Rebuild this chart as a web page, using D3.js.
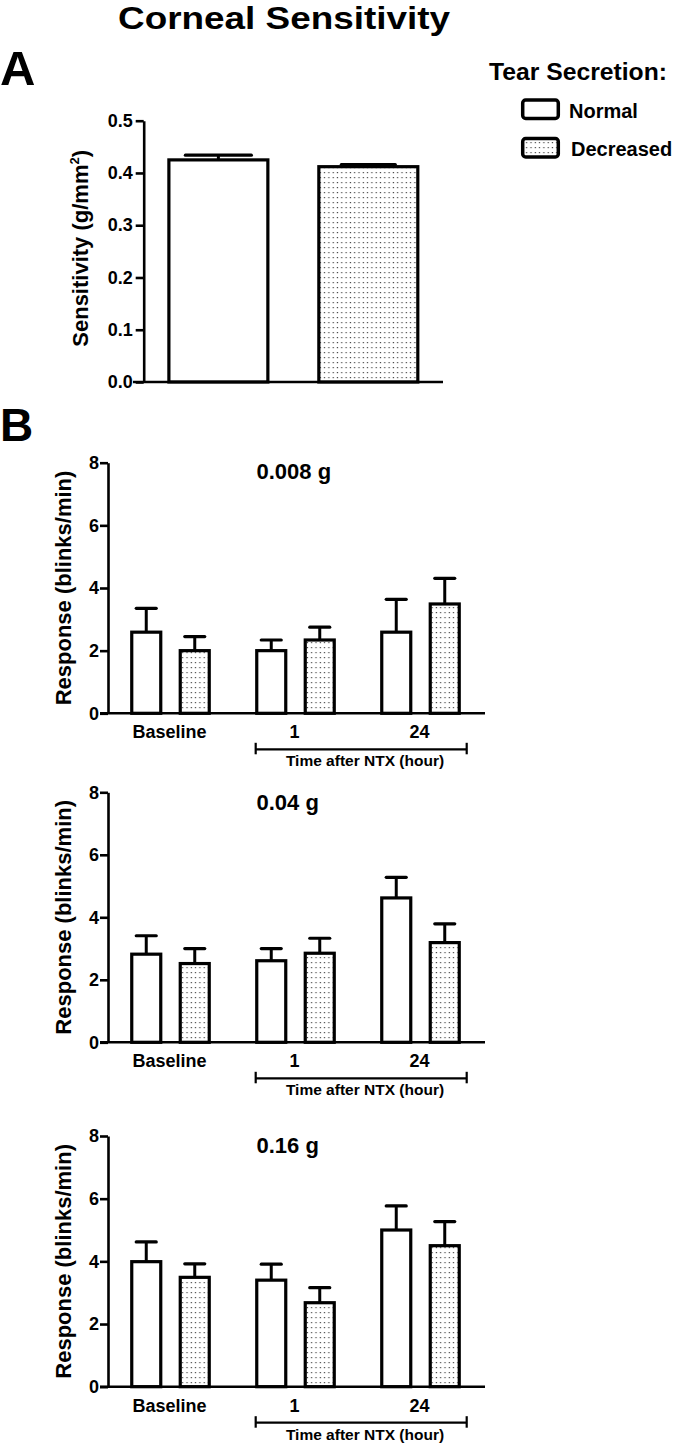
<!DOCTYPE html>
<html>
<head>
<meta charset="utf-8">
<script src="https://cdn.jsdelivr.net/npm/d3@7"></script>
<style>
  html, body { margin: 0; padding: 0; background: #fff; }
  svg { display: block; }
  text { font-family: "Liberation Sans", Arial, Helvetica, sans-serif; font-weight: bold; fill: #000; }
</style>
</head>
<body>
<div id="chart"></div>
<script>
// ---------- DATA ----------
const seriesNames = ["Normal", "Decreased"];

// Panel A
const aValues = [0.425, 0.412];
const aErrors = [0.009, 0.004];
const aTicks = [0, 0.1, 0.2, 0.3, 0.4, 0.5];

// Panel B
const bCategories = ["Baseline", "1", "24"];
const bTicks = [0, 2, 4, 6, 8];
const bTitles = ["0.008 g", "0.04 g", "0.16 g"];

const b1Normal = [2.59, 2.00, 2.59];
const b1NormalErr = [0.76, 0.34, 1.05];
const b1Decreased = [2.00, 2.34, 3.49];
const b1DecreasedErr = [0.45, 0.41, 0.82];

const b2Normal = [2.82, 2.61, 4.62];
const b2NormalErr = [0.59, 0.39, 0.66];
const b2Decreased = [2.52, 2.85, 3.19];
const b2DecreasedErr = [0.48, 0.48, 0.60];

const b3Normal = [3.99, 3.40, 5.00];
const b3NormalErr = [0.63, 0.51, 0.77];
const b3Decreased = [3.49, 2.68, 4.50];
const b3DecreasedErr = [0.43, 0.48, 0.77];

// ---------- SETUP ----------
const W = 675, H = 1445;
const svg = d3.select("#chart").append("svg").attr("width", W).attr("height", H);

const defs = svg.append("defs");
const pat = defs.append("pattern").attr("id", "dots")
  .attr("patternUnits", "userSpaceOnUse").attr("width", 4.3).attr("height", 5);
pat.append("rect").attr("width", 4.3).attr("height", 5).attr("fill", "#fff");
pat.append("rect").attr("x", 1.5).attr("y", 2).attr("width", 1.2).attr("height", 1.2).attr("fill", "#444");

const fillFor = i => i === 0 ? "#fff" : "url(#dots)";

// Title
svg.append("text").attr("x", 284).attr("y", 28.5).attr("text-anchor", "middle")
  .attr("font-size", 31).attr("textLength", 332).attr("lengthAdjust", "spacingAndGlyphs")
  .text("Corneal Sensitivity");

// Panel letters
svg.append("text").attr("x", 0).attr("y", 85).attr("font-size", 49).text("A");
svg.append("text").attr("x", 0).attr("y", 441).attr("font-size", 46).text("B");

// Legend
svg.append("text").attr("x", 489).attr("y", 80).attr("font-size", 24)
  .attr("textLength", 178).attr("lengthAdjust", "spacingAndGlyphs").text("Tear Secretion:");
const legY = [100, 138.5];
const legTextY = [118.3, 156];
const legTextX = [569, 571];
seriesNames.forEach((s, i) => {
  svg.append("rect").attr("x", 522.7).attr("y", legY[i]).attr("width", 35.6).attr("height", 18.5)
    .attr("rx", 3).attr("fill", fillFor(i)).attr("stroke", "#000").attr("stroke-width", 3.5);
  svg.append("text").attr("x", legTextX[i]).attr("y", legTextY[i]).attr("font-size", 20).text(s);
});

// ---------- PANEL A ----------
(function () {
  const xA = d3.scaleBand().domain(seriesNames).range([143.7, 443]).paddingInner(0.34).paddingOuter(0.168);
  const yA = d3.scaleLinear().domain([0, 0.5]).range([382, 120.7]);
  const g = svg.append("g");

  // bars
  g.selectAll("rect.bar").data(seriesNames).join("rect")
    .attr("x", d => xA(d)).attr("width", xA.bandwidth())
    .attr("y", (d, i) => yA(aValues[i])).attr("height", (d, i) => yA(0) - yA(aValues[i]))
    .attr("fill", (d, i) => fillFor(i)).attr("stroke", "#000").attr("stroke-width", 3.2);

  // error bars
  const capW = [66, 54];
  seriesNames.forEach((d, i) => {
    const cx = xA(d) + xA.bandwidth() / 2;
    g.append("line").attr("x1", cx).attr("x2", cx)
      .attr("y1", yA(aValues[i])).attr("y2", yA(aValues[i] + aErrors[i]))
      .attr("stroke", "#000").attr("stroke-width", 3);
    g.append("line").attr("x1", cx - capW[i] / 2).attr("x2", cx + capW[i] / 2)
      .attr("y1", yA(aValues[i] + aErrors[i])).attr("y2", yA(aValues[i] + aErrors[i]))
      .attr("stroke", "#000").attr("stroke-width", 3.2).attr("stroke-linecap", "round");
  });

  // y axis
  const ax = g.append("g").attr("transform", "translate(143.7,0)")
    .call(d3.axisLeft(yA).tickValues(aTicks).tickFormat(d3.format(".1f")).tickSize(8).tickPadding(3).tickSizeOuter(0));
  ax.select(".domain").attr("stroke-width", 2.6);
  ax.selectAll(".tick line").attr("stroke-width", 2.6);
  ax.selectAll(".tick text").attr("font-size", 18).attr("font-family", null);

  // x axis baseline
  g.append("line").attr("x1", 133).attr("x2", 443).attr("y1", yA(0)).attr("y2", yA(0))
    .attr("stroke", "#000").attr("stroke-width", 2.6);

  // y label
  const lab = g.append("text").attr("transform", `translate(88,${(yA(0) + yA(0.5)) / 2 - 3}) rotate(-90)`)
    .attr("text-anchor", "middle").attr("font-size", 22);
  lab.append("tspan").text("Sensitivity (g/mm");
  lab.append("tspan").attr("font-size", 13).attr("dy", -9).text("2");
  lab.append("tspan").attr("dy", 9).text(")");
})();

// ---------- PANEL B ----------
function drawB(cfg) {
  const g = svg.append("g");
  const y = d3.scaleLinear().domain([0, 8]).range([cfg.y0, cfg.y8]);
  const x0 = d3.scaleBand().domain(bCategories).range([108, 483]).paddingInner(0).paddingOuter(0);
  const x1 = d3.scaleBand().domain(seriesNames).range([23.75, 101.25]).paddingInner(0.402).paddingOuter(0);
  const vals = [cfg.normal, cfg.decreased];
  const errs = [cfg.normalErr, cfg.decreasedErr];

  bCategories.forEach((c, ci) => {
    seriesNames.forEach((s, si) => {
      const v = vals[si][ci], e = errs[si][ci];
      const bx = x0(c) + x1(s);
      const cx = bx + x1.bandwidth() / 2;
      g.append("line").attr("x1", cx).attr("x2", cx).attr("y1", y(v)).attr("y2", y(v + e))
        .attr("stroke", "#000").attr("stroke-width", 3);
      g.append("line").attr("x1", cx - 10).attr("x2", cx + 10).attr("y1", y(v + e)).attr("y2", y(v + e))
        .attr("stroke", "#000").attr("stroke-width", 3.2).attr("stroke-linecap", "round");
      g.append("rect").attr("x", bx).attr("width", x1.bandwidth())
        .attr("y", y(v)).attr("height", y(0) - y(v))
        .attr("fill", fillFor(si)).attr("stroke", "#000").attr("stroke-width", 3.2);
    });
  });

  // y axis
  const ax = g.append("g").attr("transform", "translate(108,0)")
    .call(d3.axisLeft(y).tickValues(bTicks).tickSize(8).tickPadding(1).tickSizeOuter(0));
  ax.select(".domain").attr("stroke-width", 2.6);
  ax.selectAll(".tick line").attr("stroke-width", 2.6);
  ax.selectAll(".tick text").attr("font-size", 18).attr("font-family", null);

  // x axis line
  g.append("line").attr("x1", 100).attr("x2", 485).attr("y1", y(0)).attr("y2", y(0))
    .attr("stroke", "#000").attr("stroke-width", 2.6);

  // category labels
  bCategories.forEach(c => {
    g.append("text").attr("x", x0(c) + x0.bandwidth() / 2 - 1).attr("y", y(0) + 25)
      .attr("text-anchor", "middle").attr("font-size", 18).text(c);
  });

  // bracket
  const by = y(0) + 36;
  g.append("line").attr("x1", 255.7).attr("x2", 466.7).attr("y1", by).attr("y2", by)
    .attr("stroke", "#000").attr("stroke-width", 2.2);
  [255.7, 466.7].forEach(bx => g.append("line").attr("x1", bx).attr("x2", bx)
    .attr("y1", by - 6.5).attr("y2", by + 5).attr("stroke", "#000").attr("stroke-width", 2.2));
  g.append("text").attr("x", 365).attr("y", y(0) + 53).attr("text-anchor", "middle")
    .attr("font-size", 15.5).text("Time after NTX (hour)");

  // title
  g.append("text").attr("x", 256.5).attr("y", y(8) + cfg.titleDy).attr("font-size", 22).text(cfg.title);

  // y label
  g.append("text").attr("transform", `translate(71,${(y(0) + y(8)) / 2}) rotate(-90)`)
    .attr("text-anchor", "middle").attr("font-size", 22).text("Response (blinks/min)");
}

drawB({ y0: 713.3, y8: 462.7, title: bTitles[0], titleDy: 16.6,
  normal: b1Normal, normalErr: b1NormalErr, decreased: b1Decreased, decreasedErr: b1DecreasedErr });
drawB({ y0: 1042.3, y8: 792.3, title: bTitles[1], titleDy: 17.7,
  normal: b2Normal, normalErr: b2NormalErr, decreased: b2Decreased, decreasedErr: b2DecreasedErr });
drawB({ y0: 1386.7, y8: 1136, title: bTitles[2], titleDy: 16.7,
  normal: b3Normal, normalErr: b3NormalErr, decreased: b3Decreased, decreasedErr: b3DecreasedErr });
</script>
</body>
</html>
